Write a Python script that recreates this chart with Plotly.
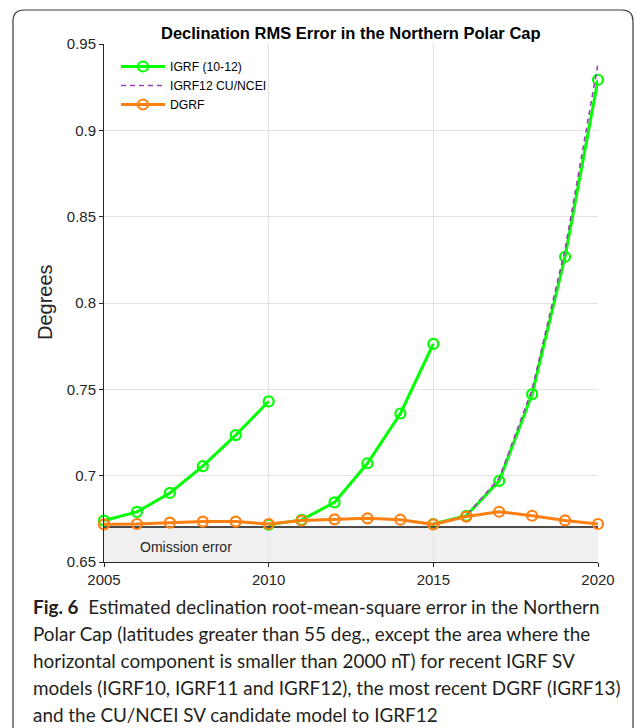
import plotly.graph_objects as go

# Forecast epochs and RMS declination error (degrees)
years_igrf10 = [2005, 2006, 2007, 2008, 2009, 2010]
rms_igrf10 = [0.674, 0.679, 0.690, 0.7055, 0.7235, 0.7430]

years_igrf11 = [2010, 2011, 2012, 2013, 2014, 2015]
rms_igrf11 = [0.6716, 0.6744, 0.6845, 0.7072, 0.7360, 0.7763]

years_igrf12 = [2015, 2016, 2017, 2018, 2019, 2020]
rms_igrf12 = [0.6720, 0.6768, 0.6970, 0.7472, 0.8268, 0.9293]

years_cu_ncei = [2015, 2016, 2017, 2018, 2019, 2020]
rms_cu_ncei = [0.6720, 0.6770, 0.6985, 0.7500, 0.8310, 0.9385]

years_dgrf = list(range(2005, 2021))
rms_dgrf = [0.6718, 0.6720, 0.6728, 0.6734, 0.6734, 0.6720, 0.6740, 0.6747,
            0.6753, 0.6745, 0.6718, 0.6763, 0.6791, 0.6768, 0.6741, 0.6720]

omission_level = 0.6703

y_ticks = [0.65, 0.70, 0.75, 0.80, 0.85, 0.90, 0.95]
y_tick_text = ["0.65", "0.7", "0.75", "0.8", "0.85", "0.9", "0.95"]
x_ticks = [2005, 2010, 2015, 2020]

caption_lines = [
    "<b>Fig. 6</b>  Estimated declination root-mean-square error in the Northern",
    "Polar Cap (latitudes greater than 55 deg., except the area where the",
    "horizontal component is smaller than 2000 nT) for recent IGRF SV",
    "models (IGRF10, IGRF11 and IGRF12), the most recent DGRF (IGRF13)",
    "and the CU/NCEI SV candidate model to IGRF12",
]

W, H = 635, 728
L, R, T, B = 104, 37, 44, 166
PW, PH = W - L - R, H - T - B


def px(x):
    return (x - L) / PW


def py(y):
    return (H - B - y) / PH


GREEN = "#00ff00"
ORANGE = "#ff7f0f"
PURPLE = "#9b3fb6"
TXT = "#262626"

# the three IGRF SV forecasts share one legend entry
igrf_x = years_igrf10 + [None] + years_igrf11 + [None] + years_igrf12
igrf_y = rms_igrf10 + [None] + rms_igrf11 + [None] + rms_igrf12

fig = go.Figure()
fig.add_trace(go.Scatter(
    x=igrf_x, y=igrf_y, name="IGRF (10-12)", mode="lines+markers",
    line=dict(color=GREEN, width=3),
    marker=dict(symbol="circle-open", size=10, color=GREEN, line=dict(width=2.2)),
    cliponaxis=False, connectgaps=False,
))
fig.add_trace(go.Scatter(
    x=years_cu_ncei, y=rms_cu_ncei, name="IGRF12 CU/NCEI", mode="lines",
    line=dict(color=PURPLE, width=1.6, dash="5px,4px"),
    cliponaxis=False,
))
fig.add_trace(go.Scatter(
    x=years_dgrf, y=rms_dgrf, name="DGRF", mode="lines+markers",
    line=dict(color=ORANGE, width=3),
    marker=dict(symbol="circle-open", size=10, color=ORANGE, line=dict(width=2.2)),
    cliponaxis=False,
))

shapes = [
    # omission-error band
    dict(type="rect", xref="x", yref="y", x0=2005, x1=2020, y0=0.65, y1=omission_level,
         fillcolor="#f0f0f0", line=dict(width=0), layer="below"),
    dict(type="line", xref="x", yref="y", x0=2005, x1=2020, y0=omission_level, y1=omission_level,
         line=dict(color="#111111", width=1.6), layer="between"),
]

# rounded frame around figure and caption
fl, ft, fr, fb, rad = 13, 10, 633, 740, 11
frame = (f"M {px(fl)},{py(ft + rad)} Q {px(fl)},{py(ft)} {px(fl + rad)},{py(ft)} "
         f"L {px(fr - rad)},{py(ft)} Q {px(fr)},{py(ft)} {px(fr)},{py(ft + rad)} "
         f"L {px(fr)},{py(fb - rad)} Q {px(fr)},{py(fb)} {px(fr - rad)},{py(fb)} "
         f"L {px(fl + rad)},{py(fb)} Q {px(fl)},{py(fb)} {px(fl)},{py(fb - rad)} Z")
shapes.append(dict(type="path", xref="paper", yref="paper", path=frame,
                   line=dict(color="#3a3a3a", width=1.2), layer="above"))

annotations = [
    dict(text="<b>Declination RMS Error in the Northern Polar Cap</b>", xref="paper", yref="paper",
         x=0.5, y=py(33), xanchor="center", yanchor="middle", showarrow=False,
         font=dict(family="Liberation Sans, Arial", size=16.5, color="#000000")),
    dict(text="Degrees", xref="paper", yref="paper", x=px(45), y=py(302),
         xanchor="center", yanchor="middle", textangle=-90, showarrow=False,
         font=dict(family="Liberation Sans, Arial", size=20, color=TXT)),
    dict(text="Omission error", xref="x", yref="y", x=2007.5, y=0.6588,
         xanchor="center", yanchor="middle", showarrow=False,
         font=dict(family="Liberation Sans, Arial", size=14, color=TXT)),
]
for i, line in enumerate(caption_lines):
    annotations.append(dict(
        text=line, xref="paper", yref="paper", x=px(31), y=py(606 + 27 * i),
        xanchor="left", yanchor="middle", showarrow=False,
        font=dict(family="Lato", size=18.9, color="#231f20"),
    ))

fig.update_layout(
    width=W, height=H,
    margin=dict(l=L, r=R, t=T, b=B, pad=0),
    paper_bgcolor="white", plot_bgcolor="white",
    font=dict(family="Liberation Sans, Arial", size=15, color=TXT),
    showlegend=True,
    legend=dict(x=px(116), y=py(52), xanchor="left", yanchor="top",
                bgcolor="rgba(0,0,0,0)", borderwidth=0, itemwidth=44,
                font=dict(family="Liberation Sans, Arial", size=12.2, color="#000000"),
                tracegroupgap=0),
    shapes=shapes,
    annotations=annotations,
    xaxis=dict(range=[2005, 2020], tickvals=x_ticks, ticktext=[str(v) for v in x_ticks],
               showgrid=True, gridcolor="#e3e3e3", gridwidth=1,
               showline=True, linecolor=TXT, linewidth=1, zeroline=False,
               ticks="outside", ticklen=4, tickcolor=TXT, tickfont=dict(size=15)),
    yaxis=dict(range=[0.65, 0.95], tickvals=y_ticks, ticktext=y_tick_text,
               showgrid=True, gridcolor="#e3e3e3", gridwidth=1,
               showline=True, linecolor=TXT, linewidth=1, zeroline=False,
               ticks="outside", ticklen=4, tickcolor=TXT, tickfont=dict(size=15)),
)

fig.write_html("out.html")
